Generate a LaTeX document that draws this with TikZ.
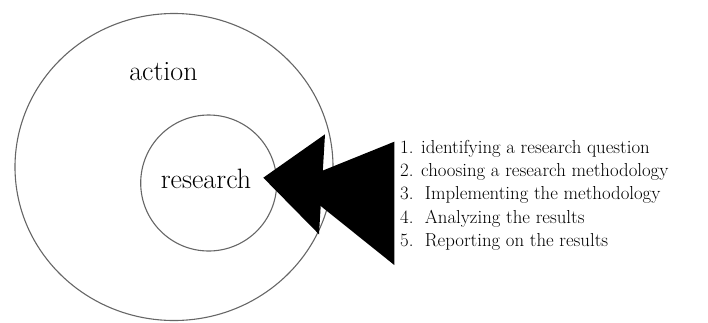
\documentclass[tikz,border=0pt]{standalone}
\usepackage{mathptmx}
\usetikzlibrary{positioning,shapes.geometric}
\tikzset{
    %Define style for the rings
    ring/.style={
           ellipse,
           draw=black!60, line width=1.1pt,
           inner sep=0pt},
    %Define style for the ring labels
    word/.style={
           font=\fontsize{28}{34}\selectfont,
           anchor=base,
           inner sep=0pt},
    %Define style for the list of steps
    stepitem/.style={
           font=\fontsize{18.8}{23}\selectfont,
           anchor=base west,
           inner sep=0pt},
    head/.style={
           fill=black}
}
\begin{document}
\begin{tikzpicture}[x=1pt,y=-1pt]
\useasboundingbox (0,0) rectangle (708,322);
 %rings
\node[ring, minimum width=318pt, minimum height=307pt](actionring) at (174,167){};
\node[ring, circle, minimum size=136pt](researchring) at (208.7,183){};
 %labels
\node[word](action) at (163.5,80){action};
\node[word](research) at (206,188.3){research};
 %arrow heads
\coordinate (tip1) at (263.3,177.7);
\coordinate (top1) at (325,134.3);
\coordinate (bot1) at (319,234.3);
\coordinate (tip2) at (292,183);
\coordinate (top2) at (394.3,141.7);
\coordinate (bot2) at (394.3,265);
\fill[head] (tip2) -- (top2) -- (bot2) -- cycle;
\fill[head] (tip1) -- (top1) -- (bot1) -- cycle;
 %steps
\foreach \txt [count=\i] in {1. identifying a research question,
    2. choosing a research methodology,
    3.\ \ Implementing the methodology,
    4.\ \ Analyzing the results,
    5.\ \ Reporting on the results}
  \node[stepitem](step\i) at (400,{153.3+23.3*(\i-1)}){\txt};
\end{tikzpicture}
\end{document}
